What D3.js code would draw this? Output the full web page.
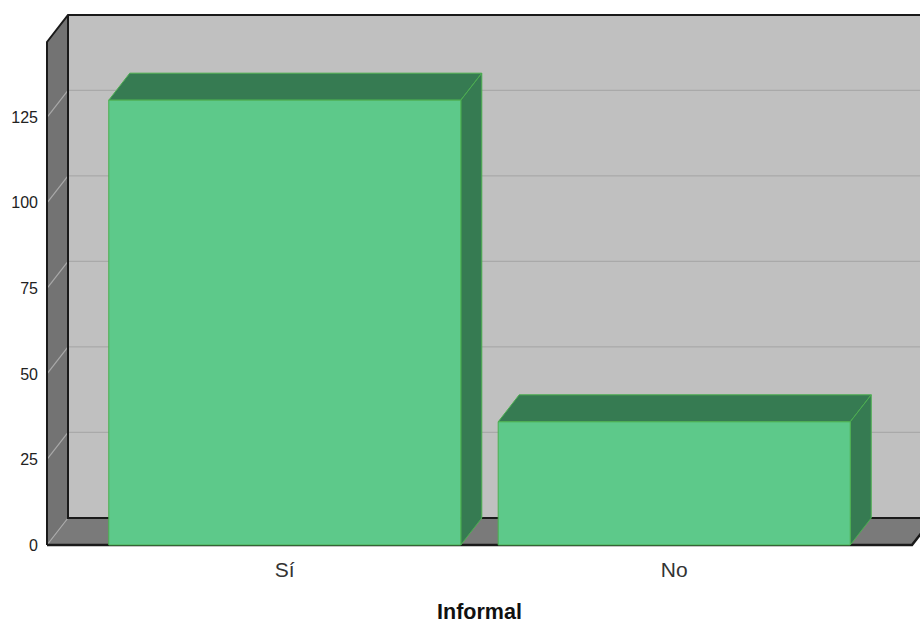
<!DOCTYPE html>
<html><head><meta charset="utf-8">
<script src="https://cdn.jsdelivr.net/npm/d3@7"></script>
<style>body{margin:0;background:#fff}svg{display:block}text{font-family:"Liberation Sans",Arial,sans-serif}</style>
</head><body>
<svg id="c" width="920" height="626"></svg>
<script>
const categories = ["Sí", "No"];
const counts = [130, 36];
const yTicks = [0, 25, 50, 75, 100, 125];
const xTitle = "Informal";

(function () {
const svg = d3.select("#c");
const pL = 47, pR = 912, pB = 545, pT = 42;
const dx = 21, dy = 27;

const y = d3.scaleLinear().domain([0, 147]).range([pB, pT]);
const x = d3.scaleBand().domain(categories).range([pL, pR]).paddingInner(0.096).paddingOuter(0.1586);

const poly = (pts) => d3.line()(pts) + "Z";

svg.append("path").attr("d", poly([[pL+dx, pT-dy],[pR+dx, pT-dy],[pR+dx, pB-dy],[pL+dx, pB-dy]]))
  .attr("fill", "#c0c0c0");
svg.append("path").attr("d", poly([[pL, pT],[pL+dx, pT-dy],[pL+dx, pB-dy],[pL, pB]]))
  .attr("fill", "#737373");
svg.append("path").attr("d", poly([[pL, pB],[pL+dx, pB-dy],[pR+dx, pB-dy],[pR, pB]]))
  .attr("fill", "#7a7a7a");

const g = svg.append("g");
yTicks.filter(t => t > 0).forEach(t => {
  g.append("line").attr("x1", pL+dx).attr("x2", pR+dx).attr("y1", y(t)-dy).attr("y2", y(t)-dy)
    .attr("stroke", "#a9a9a9").attr("stroke-width", 1.2);
});
yTicks.forEach(t => {
  g.append("line").attr("x1", pL).attr("x2", pL+dx).attr("y1", y(t)).attr("y2", y(t)-dy)
    .attr("stroke", "#a9a9a9").attr("stroke-width", 1.2);
});

const o = svg.append("g").attr("fill", "none").attr("stroke", "#1a1a1a").attr("stroke-width", 2);
o.append("path").attr("d", d3.line()([[pL, pB],[pL, pT],[pL+dx, pT-dy],[pR+dx, pT-dy]]));
o.append("path").attr("d", d3.line()([[pL+dx, pT-dy],[pL+dx, pB-dy],[pR+dx, pB-dy]]));
o.append("path").attr("d", d3.line()([[pL, pB],[pR, pB],[pR+dx, pB-dy]])).attr("stroke-width", 2.5);

const bars = svg.append("g");
categories.forEach((c, i) => {
  const x0 = x(c), x1 = x(c) + x.bandwidth(), yt = y(counts[i]), y0 = y(0);
  const gb = bars.append("g").attr("stroke", "#4caf50").attr("stroke-width", 1).attr("stroke-linejoin", "round");
  gb.append("path").attr("d", poly([[x0, yt],[x0+dx, yt-dy],[x1+dx, yt-dy],[x1, yt]])).attr("fill", "#367b52");
  gb.append("path").attr("d", poly([[x1, yt],[x1+dx, yt-dy],[x1+dx, y0-dy],[x1, y0]])).attr("fill", "#367b52");
  gb.append("rect").attr("x", x0).attr("y", yt).attr("width", x1-x0).attr("height", y0-yt).attr("fill", "#5dc98a");
});

svg.append("g").selectAll("text").data(yTicks).join("text")
  .attr("x", 38).attr("y", d => y(d)).attr("dy", "0.35em").attr("text-anchor", "end")
  .attr("font-size", 16).attr("fill", "#222").text(d => d);

svg.append("g").selectAll("text").data(categories).join("text")
  .attr("x", d => x(d) + x.bandwidth()/2).attr("y", 577).attr("text-anchor", "middle")
  .attr("font-size", 21).attr("fill", "#333").text(d => d);

svg.append("text").attr("x", (pL+pR)/2).attr("y", 619).attr("text-anchor", "middle")
  .attr("font-size", 21.5).attr("font-weight", "bold").attr("fill", "#111").text(xTitle);
})();
</script>
</body></html>
